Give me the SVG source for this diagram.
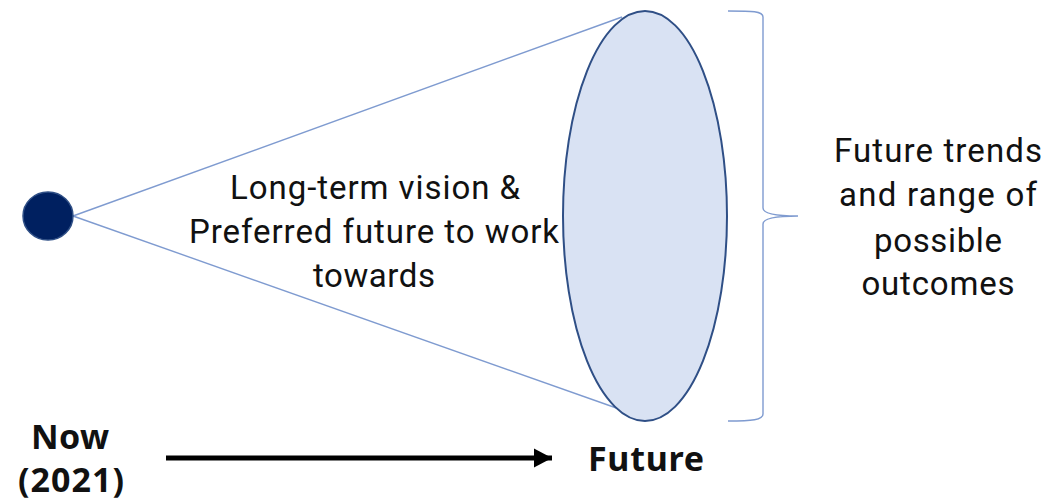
<svg xmlns="http://www.w3.org/2000/svg" width="1064" height="503" viewBox="0 0 1064 503">
<style>
.t{font-family:"Roboto","Liberation Sans",sans-serif;font-size:33px;fill:#111;text-anchor:middle}
.b{font-family:"Noto Sans","Liberation Sans",sans-serif;font-size:34px;font-weight:700;fill:#111;text-anchor:middle}
.l{fill:none;stroke:#7f9bd0;stroke-width:1.4}
</style>
<defs><marker id="a" markerWidth="20" markerHeight="22" refX="18" refY="10" orient="auto" markerUnits="userSpaceOnUse"><path d="M0 0.5L18 10L0 19.5Z" fill="#000"/></marker></defs>
<rect width="1064" height="503" fill="#fff"/>
<g id="connectors">
<path class="l" d="M73 216L622 17"/>
<path class="l" d="M73 216L622 410"/>
<path d="M166 458H552" stroke="#000" stroke-width="5" fill="none" marker-end="url(#a)"/>
</g>
<g id="now-dot"><ellipse cx="48" cy="216" rx="25" ry="24" fill="#002060" stroke="#2f4f86" stroke-width="1.5"/></g>
<g id="future-ellipse"><ellipse cx="645" cy="216" rx="82" ry="205" fill="#d9e2f3" stroke="#2f4f86" stroke-width="2"/></g>
<g id="bracket"><path class="l" d="M728 11C752 11 763 11 763 17V208C763 213 772 216 798 216C772 216 763 219 763 224V414C763 420 752 421 728 421"/></g>
<g id="vision-label"><text class="t" x="375" y="199" textLength="290">Long-term vision &amp;</text><text class="t" x="374" y="243" textLength="370">Preferred future to work</text><text class="t" x="374" y="287" textLength="122">towards</text></g>
<g id="trends-label"><text class="t" x="938" y="162" textLength="208">Future trends</text><text class="t" x="938" y="206" textLength="198">and range of</text><text class="t" x="938" y="252" textLength="128">possible</text><text class="t" x="938" y="295" textLength="153">outcomes</text></g>
<g id="now-label"><text class="b" x="70" y="449" textLength="78">Now</text><text class="b" x="71" y="492" textLength="106">(2021)</text></g>
<g id="future-label"><text class="b" x="646" y="471" textLength="116">Future</text></g>
</svg>
